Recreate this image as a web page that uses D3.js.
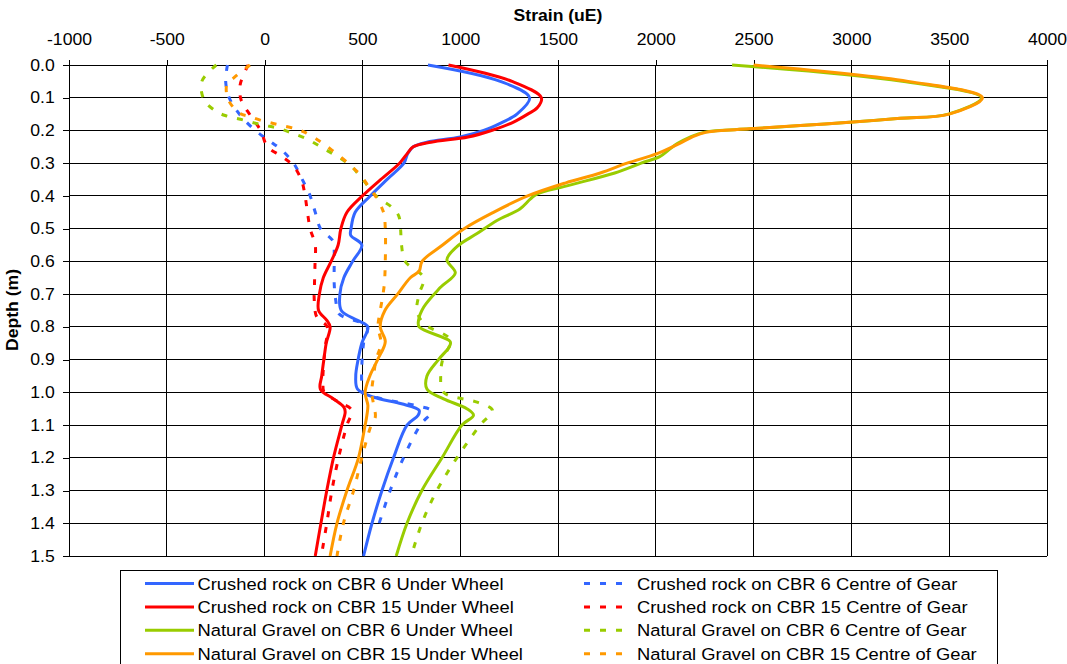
<!DOCTYPE html>
<meta charset="utf-8">
<style>
body {
  margin: 0;
  font-family: "Liberation Sans", Arial, sans-serif;
}
.grid line {
  stroke: #000;
  stroke-width: 1;
  shape-rendering: crispEdges;
}
.axis path, .axis line {
  stroke: #000;
  shape-rendering: crispEdges;
}
.axis text {
  font-size: 16px;
  fill: #000;
}
.series {
  fill: none;
  stroke-width: 3;
  stroke-linejoin: round;
}
</style>
<body>
<script src="https://d3js.org/d3.v7.min.js"></script>
<script>

var width = 1067,
    height = 664;

// each series: [depth (m), strain (uE)]
var crushed6Wheel = [[0, 835], [0.05, 1205], [0.1, 1355], [0.15, 1290], [0.175, 1215], [0.2, 1120], [0.22, 1000], [0.236, 830], [0.25, 760], [0.27, 732], [0.3, 712], [0.35, 625], [0.4, 540], [0.45, 463], [0.5, 442], [0.52, 440], [0.55, 497], [0.6, 450], [0.65, 405], [0.7, 385], [0.75, 392], [0.78, 475], [0.8, 528], [0.85, 497], [0.9, 478], [0.95, 466], [0.99, 475], [1.015, 560], [1.035, 700], [1.055, 790], [1.07, 785], [1.1, 728], [1.2, 659], [1.3, 600], [1.4, 549], [1.5, 506]];
var crushed6Gear = [[0, -190], [0.05, -199], [0.1, -181], [0.153, -125], [0.2, -47], [0.235, 32], [0.26, 88], [0.3, 148], [0.355, 197], [0.4, 233], [0.45, 259], [0.5, 286], [0.54, 352], [0.57, 356], [0.67, 356], [0.72, 364], [0.76, 380], [0.8, 523], [0.85, 506], [0.92, 497], [0.97, 497], [1.0, 506], [1.02, 600], [1.04, 770], [1.057, 853], [1.1, 796], [1.2, 710], [1.3, 642], [1.42, 575]];
var crushed15Wheel = [[0, 940], [0.05, 1265], [0.1, 1415], [0.13, 1395], [0.15, 1345], [0.175, 1270], [0.2, 1160], [0.22, 1040], [0.236, 850], [0.25, 760], [0.27, 730], [0.3, 690], [0.35, 593], [0.4, 500], [0.45, 421], [0.5, 390], [0.55, 376], [0.6, 340], [0.65, 300], [0.7, 280], [0.75, 276], [0.78, 318], [0.8, 335], [0.85, 315], [0.9, 303], [0.95, 292], [0.99, 285], [1.02, 352], [1.045, 405], [1.06, 412], [1.1, 395], [1.2, 352], [1.3, 318], [1.4, 288], [1.5, 259]];
var crushed15Gear = [[0, -84], [0.06, -125], [0.107, -120], [0.153, -74], [0.2, -20], [0.25, 15], [0.28, 90], [0.31, 150], [0.355, 190], [0.4, 207], [0.45, 219], [0.5, 233], [0.55, 259], [0.6, 258], [0.67, 255], [0.72, 254], [0.77, 267], [0.8, 320], [0.86, 310], [0.92, 301], [0.97, 298], [1.0, 305], [1.03, 380], [1.055, 446], [1.1, 421], [1.2, 378], [1.3, 344], [1.4, 318], [1.5, 290]];
var gravel6Wheel = [[0, 2390], [0.05, 3260], [0.1, 3665], [0.15, 3495], [0.163, 3250], [0.175, 2990], [0.185, 2740], [0.195, 2480], [0.205, 2250], [0.22, 2175], [0.24, 2110], [0.26, 2065], [0.28, 2020], [0.3, 1925], [0.33, 1790], [0.37, 1540], [0.395, 1390], [0.41, 1358], [0.44, 1305], [0.475, 1188], [0.515, 1086], [0.555, 983], [0.595, 932], [0.635, 975], [0.68, 898], [0.74, 813], [0.78, 787], [0.8, 790], [0.845, 949], [0.86, 945], [0.9, 889], [0.95, 830], [0.99, 830], [1.02, 915], [1.05, 1034], [1.07, 1068], [1.1, 1009], [1.2, 907], [1.3, 804], [1.4, 728], [1.5, 673]];
var gravel6Gear = [[0, -247], [0.05, -321], [0.107, -309], [0.143, -244], [0.156, -193], [0.168, -108], [0.183, -14], [0.193, 71], [0.206, 131], [0.226, 216], [0.255, 301], [0.285, 387], [0.306, 438], [0.346, 497], [0.4, 570], [0.435, 651], [0.46, 685], [0.5, 695], [0.55, 700], [0.6, 719], [0.65, 813], [0.7, 790], [0.75, 779], [0.79, 813], [0.84, 949], [0.9, 910], [0.95, 900], [1.0, 915], [1.03, 1086], [1.055, 1165], [1.1, 1102], [1.2, 983], [1.3, 881], [1.4, 804], [1.5, 750]];
var gravel15Wheel = [[0, 2500], [0.05, 3290], [0.1, 3670], [0.15, 3500], [0.163, 3250], [0.175, 2990], [0.185, 2740], [0.195, 2480], [0.205, 2260], [0.22, 2185], [0.24, 2120], [0.27, 2010], [0.3, 1853], [0.33, 1716], [0.36, 1540], [0.4, 1345], [0.45, 1170], [0.5, 1020], [0.55, 910], [0.6, 805], [0.63, 790], [0.65, 745], [0.7, 680], [0.75, 615], [0.8, 591], [0.845, 617], [0.9, 578], [0.95, 538], [1.0, 514], [1.04, 528], [1.07, 523], [1.1, 514], [1.2, 480], [1.3, 421], [1.4, 370], [1.5, 335]];
var gravel15Gear = [[0, -75], [0.04, -159], [0.06, -193], [0.107, -185], [0.148, -125], [0.158, -74], [0.17, -14], [0.183, 76], [0.196, 165], [0.206, 207], [0.234, 284], [0.26, 344], [0.306, 438], [0.341, 497], [0.37, 530], [0.4, 566], [0.45, 608], [0.5, 617], [0.6, 617], [0.67, 612], [0.72, 600], [0.76, 588], [0.8, 580], [0.85, 595], [0.9, 570], [0.95, 557], [1.0, 548], [1.04, 558], [1.075, 566], [1.1, 545], [1.2, 497], [1.3, 455], [1.4, 403], [1.5, 370]];

var seriesNames = ["Crushed rock on CBR 6 Under Wheel", "Crushed rock on CBR 6 Centre of Gear",
                   "Crushed rock on CBR 15 Under Wheel", "Crushed rock on CBR 15 Centre of Gear",
                   "Natural Gravel on CBR 6 Under Wheel", "Natural Gravel on CBR 6 Centre of Gear",
                   "Natural Gravel on CBR 15 Under Wheel", "Natural Gravel on CBR 15 Centre of Gear"];
var seriesData = [crushed6Wheel, crushed6Gear, crushed15Wheel, crushed15Gear,
                  gravel6Wheel, gravel6Gear, gravel15Wheel, gravel15Gear];
var seriesColors = ["#3366ff", "#3366ff", "#ff0000", "#ff0000", "#99cc00", "#99cc00", "#ff9900", "#ff9900"];
var seriesDashed = [false, true, false, true, false, true, false, true];

var strainTicks = [-1000, -500, 0, 500, 1000, 1500, 2000, 2500, 3000, 3500, 4000];
var depthTicks = [0, 0.1, 0.2, 0.3, 0.4, 0.5, 0.6, 0.7, 0.8, 0.9, 1.0, 1.1, 1.2, 1.3, 1.4, 1.5];

var x = d3.scaleLinear().domain([-1000, 4000]).range([69, 1047]);
var y = d3.scaleLinear().domain([0, 1.5]).range([65, 556]);

var svg = d3.select("body").append("svg")
    .attr("width", width)
    .attr("height", height);

// grid
var grid = svg.append("g").attr("class", "grid");
grid.selectAll(".v").data(strainTicks).enter().append("line")
    .attr("x1", function(d) { return x(d); })
    .attr("x2", function(d) { return x(d); })
    .attr("y1", y(0))
    .attr("y2", y(1.5));
grid.selectAll(".h").data(depthTicks).enter().append("line")
    .attr("x1", x(-1000))
    .attr("x2", x(4000))
    .attr("y1", function(d) { return y(d); })
    .attr("y2", function(d) { return y(d); });

// axes (plain hyphen for negatives, like the original)
var xAxis = svg.append("g")
    .attr("class", "axis")
    .attr("transform", "translate(0," + y(0) + ")")
    .call(d3.axisTop(x).tickValues(strainTicks).tickSize(5).tickPadding(15).tickFormat(function(d) { return String(d); }));

var yAxis = svg.append("g")
    .attr("class", "axis")
    .attr("transform", "translate(" + x(-1000) + ",0)")
    .call(d3.axisLeft(y).tickValues(depthTicks).tickSize(6).tickPadding(7).tickFormat(function(d) { return d.toFixed(1); }));

svg.selectAll(".axis text")
    .attr("transform", "scale(1.1,1)")
    .style("font-family", "'Liberation Sans', Arial, sans-serif");

svg.append("text")
    .attr("transform", "translate(558,21) scale(1.1,1)")
    .attr("text-anchor", "middle")
    .style("font-size", "16px")
    .style("font-weight", "bold")
    .text("Strain (uE)");

svg.append("text")
    .attr("transform", "translate(18,310) rotate(-90) scale(1.1,1)")
    .attr("text-anchor", "middle")
    .style("font-size", "16px")
    .style("font-weight", "bold")
    .text("Depth (m)");

// lines
var line = d3.line()
    .x(function(d) { return x(d[1]); })
    .y(function(d) { return y(d[0]); })
    .curve(d3.curveCatmullRom.alpha(0.5));

svg.selectAll(".series").data(seriesData).enter().append("path")
    .attr("class", "series")
    .attr("d", line)
    .style("stroke", function(d, i) { return seriesColors[i]; })
    .style("stroke-dasharray", function(d, i) { return seriesDashed[i] ? "6,10" : null; });

// legend
var legend = svg.append("g");
legend.append("rect")
    .attr("x", 120.5)
    .attr("y", 570.5)
    .attr("width", 877)
    .attr("height", 130)
    .style("fill", "#fff")
    .style("stroke", "#000")
    .style("stroke-width", 1);

var items = legend.selectAll(".item").data(seriesNames).enter().append("g")
    .attr("class", "item")
    .attr("transform", function(d, i) {
      var col = i % 2, row = Math.floor(i / 2);
      return "translate(" + (col ? 584 : 145) + "," + (583.5 + row * 23.4) + ")";
    });

items.append("line")
    .attr("x1", 0)
    .attr("x2", function(d, i) { return seriesDashed[i] ? 40 : 49; })
    .attr("y1", 0)
    .attr("y2", 0)
    .style("stroke", function(d, i) { return seriesColors[i]; })
    .style("stroke-width", 3)
    .style("stroke-dasharray", function(d, i) { return seriesDashed[i] ? "6,10" : null; });

items.append("text")
    .attr("transform", function(d, i) { return "translate(" + (seriesDashed[i] ? 53 : 52.5) + ",6) scale(1.08,1)"; })
    .style("font-size", "17px")
    .text(function(d) { return d; });

</script>
